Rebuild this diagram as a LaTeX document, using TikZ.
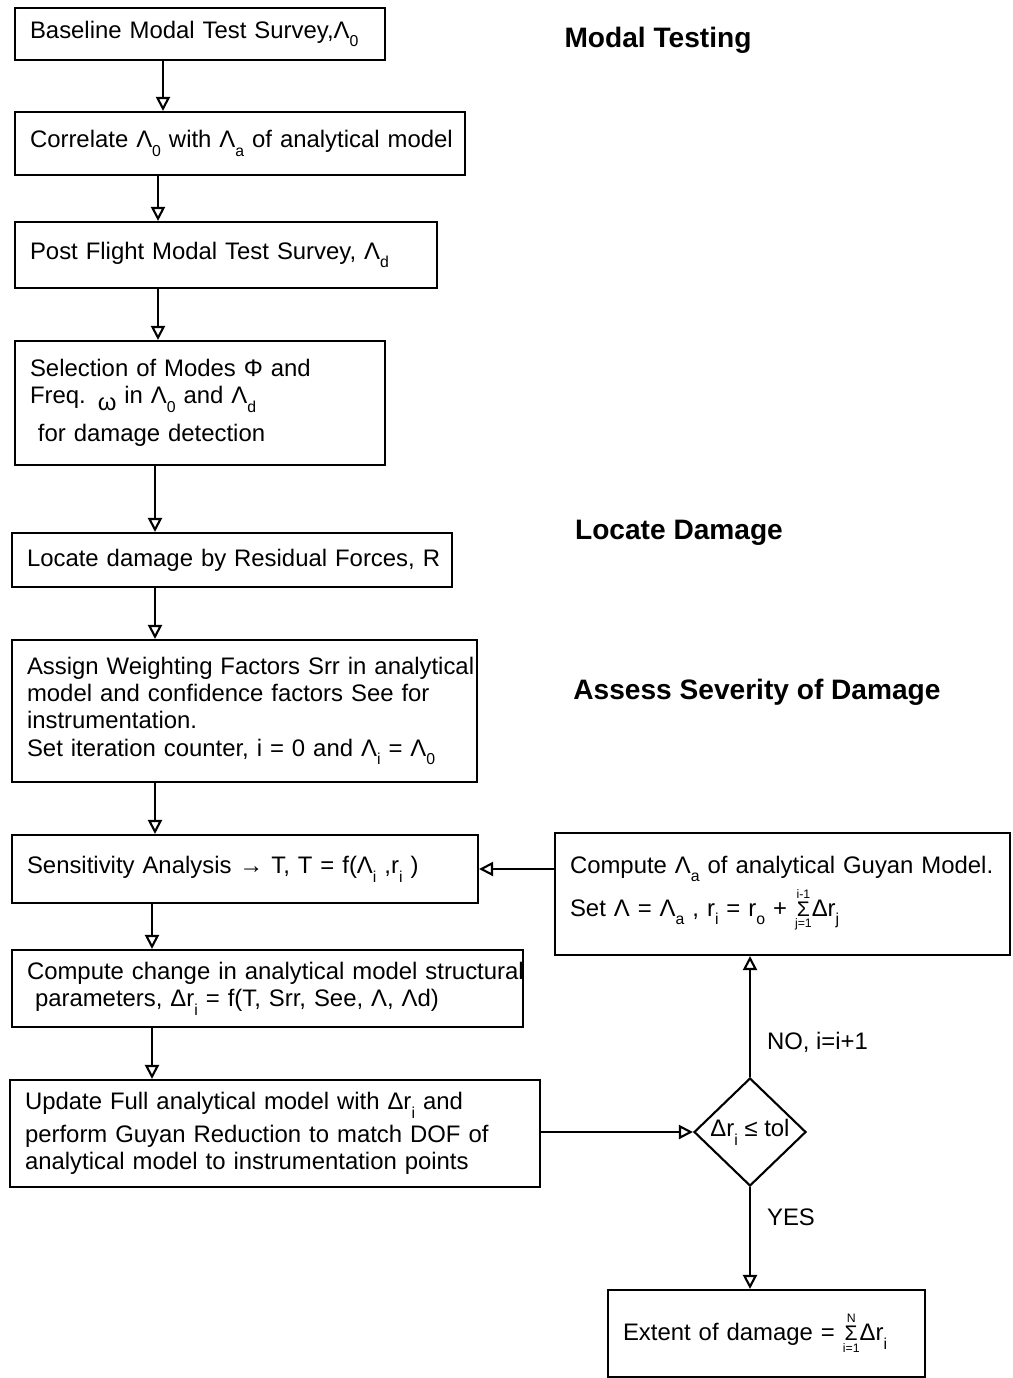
\documentclass[tikz,border=0pt]{standalone}
\usepackage{fontspec}
\setmainfont{Liberation Sans}
\usetikzlibrary{arrows.meta,shapes.geometric}
\newcommand{\sbs}[1]{\raisebox{-0.7ex}{\small #1}}
\newcommand{\sumof}[2]{$\mathop{\hbox{\large Σ}}\limits_{\hbox{\scriptsize #1}}^{\hbox{\scriptsize #2}}$}

\begin{document}
\begin{tikzpicture}[x=0.02cm,y=-0.02cm,
  font=\fontsize{13.6}{15.5}\selectfont,
  bx/.style={draw,line width=1.2pt,align=left,inner xsep=0.3cm,inner ysep=2pt},
  dec/.style={diamond,draw,line width=1.2pt,minimum width=2.24cm,
              minimum height=2.16cm,inner sep=0pt},
  ln/.style={line width=1.2pt},
  arr/.style={ln,-{Triangle[open,length=2.8mm,width=2.8mm]}},
  lbl/.style={inner sep=2pt,right=0.25cm},
  hd/.style={font=\fontsize{16}{19}\selectfont\bfseries},
  ]
  \useasboundingbox (0,0) rectangle (1013,1378);
  % modal testing
  \node[bx,text width=6.8cm,minimum height=1.04cm] (base) at (200,34)
    {\mbox{Baseline Modal Test Survey,Λ\sbs{0}}};
  \node[bx,text width=8.4cm,minimum height=1.26cm] (corr) at (240,143.5)
    {\mbox{Correlate Λ\sbs{0} with Λ\sbs{a} of analytical model}};
  \node[bx,text width=7.84cm,minimum height=1.32cm] (post) at (226,255)
    {\mbox{Post Flight  Modal Test Survey,  Λ\sbs{d}}};
  \node[bx,text width=6.8cm,minimum height=2.48cm] (sel) at (200,403)
    {\mbox{Selection of Modes Φ  and}\\
     \mbox{Freq.  \raisebox{-0.5ex}{ω}  in  Λ\sbs{0} and  Λ\sbs{d}}\\[6pt]
     \mbox{ for  damage detection}};
  % locate damage
  \node[bx,text width=8.2cm,minimum height=1.08cm] (loc) at (232,560)
    {\mbox{Locate damage by  Residual Forces, R}};
  % assess severity
  \node[bx,text width=8.7cm,minimum height=2.84cm] (asg) at (244.5,711)
    {\mbox{Assign Weighting Factors Srr in analytical}\\
     \mbox{model  and confidence factors See for}\\
     \mbox{instrumentation.}\\
     \mbox{Set  iteration  counter, i = 0  and  Λ\sbs{i} = Λ\sbs{0}}};
  \node[bx,text width=8.72cm,minimum height=1.36cm] (sens) at (245,869)
    {\mbox{Sensitivity Analysis → T,  T = f(Λ\sbs{i} ,r\sbs{i} )}};
  \node[bx,text width=9.62cm,minimum height=1.54cm] (chg) at (267.5,988.5)
    {\mbox{Compute change in analytical model structural}\\
     \mbox{ parameters,   Δr\sbs{i} = f(T, Srr, See, Λ, Λd)}};
  \node[bx,text width=10cm,minimum height=2.14cm] (upd) at (275,1133.5)
    {\mbox{Update Full analytical model with  Δr\sbs{i} and}\\[3pt]
     \mbox{perform Guyan Reduction to match DOF of}\\
     \mbox{analytical model  to instrumentation points}};
  \node[bx,text width=8.5cm,minimum height=2.44cm] (gyn) at (782.5,894)
    {\mbox{Compute Λ\sbs{a} of analytical Guyan Model.}\\[2pt]
     \mbox{Set  Λ =  Λ\sbs{a} ,  r\sbs{i} = r\sbs{o} + \sumof{j=1}{i-1}Δr\sbs{j}}};
  \node[dec] (tol) at (750,1132) {\makebox[0pt]{Δr\sbs{i} ≤ tol}};
  \node[bx,text width=5.74cm,minimum height=1.74cm] (ext) at (766.5,1333.5)
    {\mbox{Extent of damage = \sumof{i=1}{N}Δr\sbs{i}}};
  % headings
  \node[hd] (h1) at (658,40)  {Modal  Testing};
  \node[hd] (h2) at (679,533) {Locate  Damage};
  \node[hd] (h3) at (757,692) {Assess Severity  of Damage};
  % main flow
  \draw[arr] (base.south -| 163,0) -- (corr.north -| 163,0);
  \draw[arr] (corr.south -| 158,0) -- (post.north -| 158,0);
  \draw[arr] (post.south -| 158,0) -- (sel.north -| 158,0);
  \draw[arr] (sel.south -| 155,0)  -- (loc.north -| 155,0);
  \draw[arr] (loc.south -| 155,0)  -- (asg.north -| 155,0);
  \draw[arr] (asg.south -| 155,0)  -- (sens.north -| 155,0);
  \draw[arr] (sens.south -| 152,0) -- (chg.north -| 152,0);
  \draw[arr] (chg.south -| 152,0)  -- (upd.north -| 152,0);
  % iteration loop
  \draw[arr] (upd.east |- tol.west) -- (tol.west);
  \draw[arr] (tol.north) -- node[lbl,pos=0.29] {NO, i=i+1} (tol.north |- gyn.south);
  \draw[arr] (gyn.west |- sens.east) -- (sens.east);
  \draw[arr] (tol.south) -- node[lbl,pos=0.3] {YES} (tol.south |- ext.north);
\end{tikzpicture}
\end{document}
